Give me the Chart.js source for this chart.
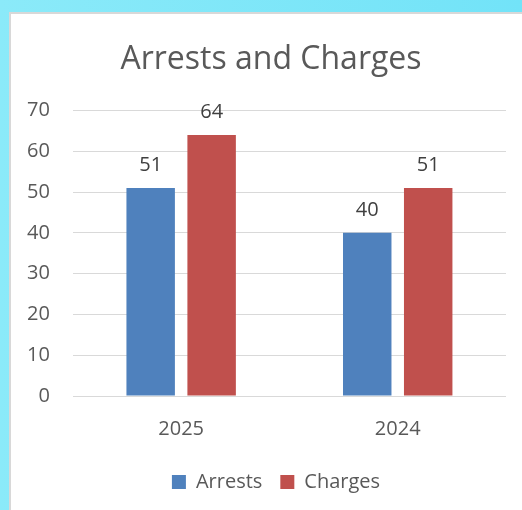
<!DOCTYPE html>
<html>
<head>
<meta charset="utf-8">
<script src="https://cdn.jsdelivr.net/npm/chart.js@4"></script>
<style>
  html, body { margin: 0; padding: 0; }
  body {
    width: 522px; height: 510px; overflow: hidden; position: relative;
    background: linear-gradient(90deg, #8beaf9, #72e3f8);
  }
  #card {
    position: absolute; left: 9px; top: 12px; right: 0; bottom: 0;
    background: #fff; border-left: 2px solid #d8d8d8; border-top: 2px solid #d8d8d8;
  }
  canvas { position: absolute; left: 0; top: 0; }
</style>
</head>
<body>
<div id="card"></div>
<canvas id="chart" width="522" height="510"></canvas>
<script>
// chart data
const years = ["2025", "2024"];
const arrests = [51, 40];
const charges = [64, 51];
const yTicks = [0, 10, 20, 30, 40, 50, 60, 70];

const txt = "#595959";
const font = "'Open Sans', sans-serif";

// draws the value above each bar
const barLabels = {
  id: "barLabels",
  afterDatasetsDraw(chart) {
    const ctx = chart.ctx;
    ctx.save();
    ctx.font = "20px " + font;
    ctx.fillStyle = "#404040";
    ctx.textAlign = "center";
    ctx.textBaseline = "bottom";
    chart.data.datasets.forEach((ds, i) => {
      chart.getDatasetMeta(i).data.forEach((bar, j) => {
        ctx.fillText(ds.data[j], bar.x, bar.y - 13);
      });
    });
    ctx.restore();
  }
};

// title and legend in the original sit a bit right of the canvas centre
const shiftBlocks = {
  id: "shiftBlocks",
  afterLayout(chart) {
    if (chart.titleBlock) chart.titleBlock.left += 32;
    if (chart.legend) chart.legend.left += 42;
  }
};

new Chart(document.getElementById("chart"), {
  type: "bar",
  data: {
    labels: years,
    datasets: [
      { label: "Arrests", data: arrests, backgroundColor: "#4f81bd" },
      { label: "Charges", data: charges, backgroundColor: "#c0504d" }
    ]
  },
  options: {
    responsive: false,
    animation: false,
    layout: { padding: { left: 4, right: 16, top: 41, bottom: 8 } },
    datasets: { bar: { categoryPercentage: 0.563, barPercentage: 0.795 } },
    scales: {
      x: {
        grid: { display: false },
        border: { display: false },
        ticks: { color: txt, font: { size: 20, family: font }, padding: 13 }
      },
      y: {
        min: 0,
        max: 70,
        afterBuildTicks(axis) { axis.ticks = yTicks.map(v => ({ value: v })); },
        grid: { color: "#d9d9d9", lineWidth: 1, drawTicks: false },
        border: { display: false },
        ticks: { color: txt, font: { size: 20, family: font }, padding: 23 }
      }
    },
    plugins: {
      title: {
        display: true,
        text: "Arrests and Charges",
        color: txt,
        font: { size: 32, family: font, weight: "normal" },
        padding: { top: 0, bottom: 31 }
      },
      legend: {
        position: "bottom",
        labels: {
          color: txt,
          font: { size: 20, family: font },
          boxWidth: 14,
          boxHeight: 14,
          padding: 18
        }
      },
      tooltip: { enabled: false }
    }
  },
  plugins: [barLabels, shiftBlocks]
});
</script>
</body>
</html>
